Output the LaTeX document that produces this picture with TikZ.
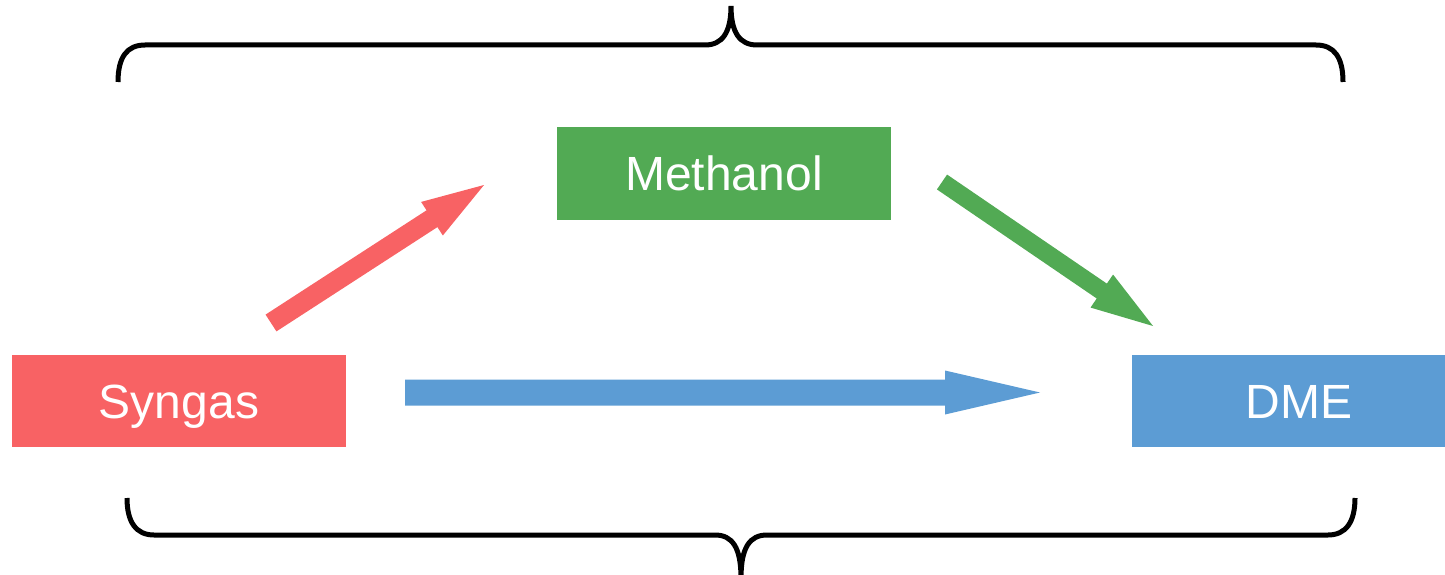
\documentclass[tikz,border=0pt]{standalone}
\usepackage{fontspec}
\setmainfont{Liberation Sans}
\usetikzlibrary{calc}
\definecolor{synred}{RGB}{248,98,100}
\definecolor{methgreen}{RGB}{82,170,84}
\definecolor{dmeblue}{RGB}{92,156,212}
\tikzset{
  box/.style={minimum width=334pt, minimum height=92pt, inner sep=0pt,
    text height=34pt, text depth=0pt,
    text=white, font=\fontsize{48}{52}\selectfont},
  brace/.style={line width=5pt, black}
}
% block arrow: colour, tail, tip, half shaft width, half head width, head length
\newcommand{\blockarrow}[6]{%
  \coordinate (hb) at ($(#3)!#6!(#2)$);
  \fill[#1] ($(#2)!#4!90:(#3)$) -- ($(hb)!#4!-90:(#2)$) -- ($(hb)!#5!-90:(#2)$)
    -- (#3) -- ($(hb)!#5!90:(#2)$) -- ($(hb)!#4!90:(#2)$)
    -- ($(#2)!#4!-90:(#3)$) -- cycle;}
\begin{document}
\begin{tikzpicture}[x=1pt,y=-1pt]
\useasboundingbox (0,0) rectangle (1445,575);

% process boxes
\node[box, fill=synred]    (syngas)   at (179,401)   {Syngas};
\node[box, fill=methgreen] (methanol) at (724,173.5) {Methanol};
\node[box, fill=dmeblue]   (dme)      at (1299,401)  {DME};

% block arrows between the boxes
\coordinate (r1) at (271,323);  \coordinate (r2) at (484,185);
\coordinate (g1) at (942,182);  \coordinate (g2) at (1153,326);
\coordinate (b1) at (405,392.5);  \coordinate (b2) at (1040,392.5);
\blockarrow{synred}{r1}{r2}{10pt}{20pt}{62pt}
\blockarrow{methgreen}{g1}{g2}{9pt}{20pt}{62pt}
\blockarrow{dmeblue}{b1}{b2}{13pt}{22pt}{95pt}

% upper brace
\draw[brace] (118,82) .. controls (118,57) and (127,45) .. (145,45)
  -- (705,45) .. controls (722,45) and (731,33) .. (731,6)
  .. controls (731,33) and (740,45) .. (757,45)
  -- (1316,45) .. controls (1334,45) and (1343,57) .. (1343,82);

% lower brace
\draw[brace] (127,498) .. controls (127,522) and (136,535) .. (154,535)
  -- (715,535) .. controls (732,535) and (741,547) .. (741,578)
  .. controls (741,547) and (750,535) .. (767,535)
  -- (1328,535) .. controls (1346,535) and (1355,522) .. (1355,498);
\end{tikzpicture}
\end{document}
